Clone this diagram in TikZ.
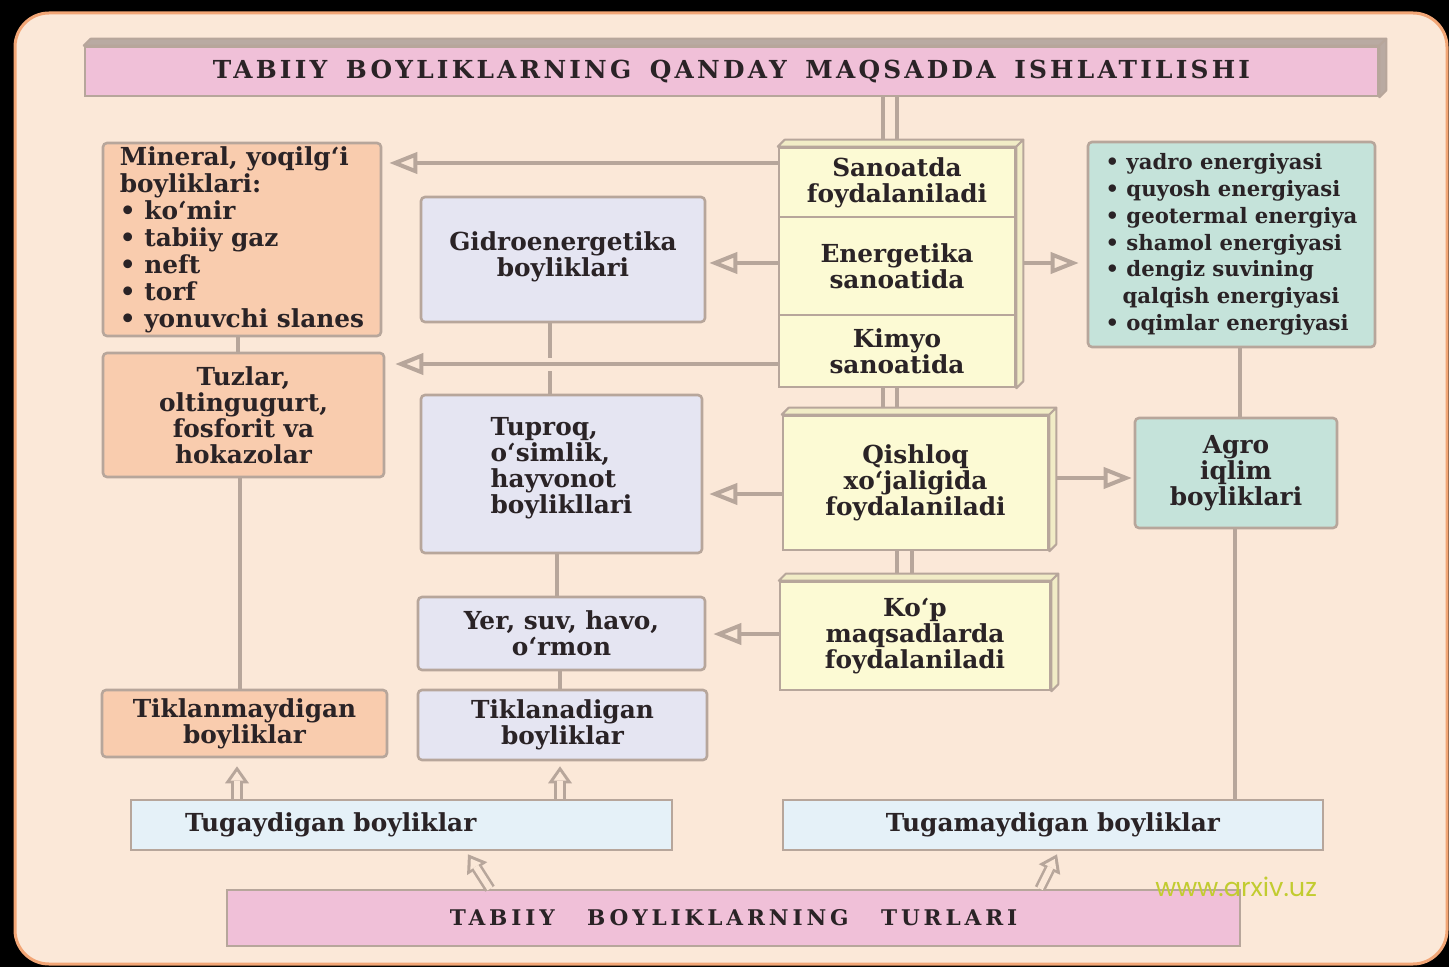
\documentclass[tikz,border=0pt]{standalone}
\usepackage{fontspec}
\setmainfont{DejaVu Serif}
\newfontfamily\titlefont[LetterSpace=13]{DejaVu Serif}
\newfontfamily\titlefontB[LetterSpace=18]{DejaVu Serif}
\newfontfamily\wmfont{Poppins}
\usetikzlibrary{arrows.meta,calc}
\pgfdeclarelayer{back}
\pgfdeclarelayer{bg}
\pgfsetlayers{back,bg,main}
\definecolor{bgpanel}{HTML}{FBE8D8}
\definecolor{panelborder}{HTML}{F2A676}
\definecolor{linegray}{HTML}{B7A69B}
\definecolor{titlepink}{HTML}{F0C0D8}
\definecolor{depthgray}{HTML}{B9AAA2}
\definecolor{salmon}{HTML}{F9CCAE}
\definecolor{lavender}{HTML}{E5E5F2}
\definecolor{lyellow}{HTML}{FCFAD4}
\definecolor{lyellowdepth}{HTML}{F1ECC6}
\definecolor{tealbox}{HTML}{C5E3DA}
\definecolor{lblue}{HTML}{E5F1F8}
\definecolor{wmgreen}{HTML}{C2CC30}
\definecolor{textdark}{HTML}{2A2326}
\tikzset{
  box/.style={draw=linegray, line width=1.3pt, rounded corners=2pt, inner sep=0pt,
    align=center, text=textdark, font=\bfseries\fontsize{12.4}{13}\selectfont},
  sq/.style={box, rounded corners=0pt},
  heading/.style={box, rounded corners=0pt},
  conn/.style={draw=linegray, line width=1.6pt},
  harrow/.style={draw=linegray, line width=2pt, -{Triangle[open,length=14pt,width=10.5pt]}},
  hollowout/.style={draw=linegray, line width=5.6pt, -{Triangle[length=8.5pt,width=12pt,line width=0pt]}},
  hollowin/.style={draw=bgpanel, line width=3pt, shorten >=2.6pt, -{Triangle[length=4.6pt,width=6.4pt,line width=0pt]}},
  face/.style={draw=linegray, line width=1pt, line join=round},
}
\begin{document}
\begin{tikzpicture}[x=0.5pt,y=-0.5pt]
\useasboundingbox (0,0) rectangle (1449,967);
\begin{pgfonlayer}{back}
\fill[black] (0,0) rectangle (1449,967);
\draw[panelborder, line width=1.5pt, fill=bgpanel, rounded corners=17pt] (15,13) rectangle (1447,964);
\end{pgfonlayer}

% heading
\node[heading, fill=titlepink, minimum width=646.5pt, minimum height=24.5pt,
      font=\titlefont\bfseries\fontsize{12.4}{13}\selectfont] (title) at (731.5,71.5)
  {TABIIY\hspace{0.75em}BOYLIKLARNING\hspace{0.75em}QANDAY\hspace{0.75em}MAQSADDA\hspace{0.75em}ISHLATILISHI};
\draw[face, fill=depthgray] (title.north west) -- ++(3.5pt,3.5pt) -- ([shift={(3.5pt,3.5pt)}]title.north east) -- (title.north east) -- cycle;
\draw[face, fill=depthgray] (title.north east) -- ++(3.5pt,3.5pt) -- ([shift={(3.5pt,3.5pt)}]title.south east) -- (title.south east) -- cycle;

% left column
\node[box, fill=salmon, minimum width=139pt, minimum height=96.5pt, align=left,
      font=\bfseries\fontsize{12.4}{13.5}\selectfont] (mineral) at (242,239.5)
  {Mineral, yoqilg‘i\\boyliklari:\\• ko‘mir\\• tabiiy gaz\\• neft\\• torf\\• yonuvchi slanes};
\node[box, fill=salmon, minimum width=140.5pt, minimum height=62pt] (tuzlar) at (243.5,415)
  {Tuzlar,\\oltingugurt,\\fosforit va\\hokazolar};
\node[box, fill=salmon, minimum width=142.5pt, minimum height=33.5pt] (tiklanmay) at (244.5,723.5)
  {Tiklanmaydigan\\boyliklar};

% second column
\node[box, fill=lavender, minimum width=142pt, minimum height=62.5pt] (gidro) at (563,259.5)
  {Gidroenergetika\\boyliklari\vphantom{y}\\[-8pt]};
\node[box, fill=lavender, minimum width=140.5pt, minimum height=79pt, align=left] (tuproq) at (561.5,474)
  {Tuproq,\\o‘simlik,\\hayvonot\\boylikllari\\[-4pt]};
\node[box, fill=lavender, minimum width=143.5pt, minimum height=36.5pt] (yer) at (561.5,633.5)
  {Yer, suv, havo,\\o‘rmon};
\node[box, fill=lavender, minimum width=144.5pt, minimum height=35pt] (tiklan) at (562.5,725)
  {Tiklanadigan\\boyliklar};

% middle column (3D boxes)
\node[sq, fill=lyellow, minimum width=118pt, minimum height=34.5pt] (sanoat) at (897,182.5)
  {Sanoatda\\foydalaniladi};
\node[sq, fill=lyellow, minimum width=118pt, minimum height=49pt] (energ) at (897,266)
  {Energetika\\sanoatida};
\node[sq, fill=lyellow, minimum width=118pt, minimum height=36pt] (kimyo) at (897,351)
  {Kimyo\\sanoatida};
\draw[face, fill=lyellowdepth] (sanoat.north west) -- ++(3.5pt,3.5pt) -- ([shift={(3.5pt,3.5pt)}]sanoat.north east) -- (sanoat.north east) -- cycle;
\draw[face, fill=lyellowdepth] (sanoat.north east) -- ++(3.5pt,3.5pt) -- ([shift={(3.5pt,3.5pt)}]kimyo.south east) -- (kimyo.south east) -- cycle;

\node[sq, fill=lyellow, minimum width=132.5pt, minimum height=67pt] (qishloq) at (915.5,483)
  {Qishloq\\xo‘jaligida\\foydalaniladi};
\draw[face, fill=lyellowdepth] (qishloq.north west) -- ++(3.5pt,3.5pt) -- ([shift={(3.5pt,3.5pt)}]qishloq.north east) -- (qishloq.north east) -- cycle;
\draw[face, fill=lyellowdepth] (qishloq.north east) -- ++(3.5pt,3.5pt) -- ([shift={(3.5pt,3.5pt)}]qishloq.south east) -- (qishloq.south east) -- cycle;

\node[sq, fill=lyellow, minimum width=135pt, minimum height=54pt] (kop) at (915,636)
  {Ko‘p\\maqsadlarda\\foydalaniladi};
\draw[face, fill=lyellowdepth] (kop.north west) -- ++(3.5pt,3.5pt) -- ([shift={(3.5pt,3.5pt)}]kop.north east) -- (kop.north east) -- cycle;
\draw[face, fill=lyellowdepth] (kop.north east) -- ++(3.5pt,3.5pt) -- ([shift={(3.5pt,3.5pt)}]kop.south east) -- (kop.south east) -- cycle;

% right column
\node[box, fill=tealbox, minimum width=143.5pt, minimum height=102.5pt, align=left,
      font=\bfseries\fontsize{10.6}{13.4}\selectfont] (energy) at (1231.5,244.5)
  {• yadro energiyasi\\• quyosh energiyasi\\• geotermal energiya\\• shamol energiyasi\\• dengiz suvining\\\hphantom{•\,}qalqish energiyasi\\• oqimlar energiyasi};
\node[box, fill=tealbox, minimum width=101pt, minimum height=55pt] (agro) at (1236,473)
  {Agro\\iqlim\\boyliklari};

% bottom
\node[box, fill=lblue, rounded corners=0pt, minimum height=25pt, text width=216.5pt, inner xsep=27pt, align=left] (tugay) at (401.5,825)
  {Tugaydigan boyliklar};
\node[box, fill=lblue, rounded corners=0pt, minimum width=270pt, minimum height=25pt] (tugamay) at (1053,825)
  {Tugamaydigan boyliklar};
\node[heading, fill=titlepink, minimum width=506.5pt, minimum height=28pt,
      font=\titlefontB\bfseries\fontsize{10.8}{12}\selectfont] (turlari) at (733.5,918)
  {TABIIY\hspace{1.5em}BOYLIKLARNING\hspace{1.5em}TURLARI};

\node[font=\wmfont\fontsize{12.8}{13}\selectfont, text=wmgreen, anchor=base west, inner sep=0pt] (wm) at (1155,896) {www.arxiv.uz};

% connectors (behind boxes)
\begin{pgfonlayer}{bg}
\draw[conn] ([xshift=-7pt]sanoat.north) -- ([xshift=-7pt]sanoat.north |- title.south);
\draw[conn] (sanoat.north) -- (sanoat.north |- title.south);
\draw[conn] ([xshift=-7pt]kimyo.south) -- ([xshift=-7pt]kimyo.south |- qishloq.north);
\draw[conn] (kimyo.south) -- (kimyo.south |- qishloq.north);
\draw[conn] ([xshift=-9.25pt]qishloq.south) -- ([xshift=-9.25pt]qishloq.south |- kop.north);
\draw[conn] ([xshift=-1.75pt]qishloq.south) -- ([xshift=-1.75pt]qishloq.south |- kop.north);

\draw[conn] ([xshift=-2pt]mineral.south) -- ([xshift=-2pt]mineral.south |- tuzlar.north);
\draw[conn] ([xshift=-1.75pt]tuzlar.south) -- ([xshift=-1.75pt]tuzlar.south |- tiklanmay.north);
\draw[conn] ([xshift=-6.5pt]gidro.south) -- ++(0,-17.5pt);
\draw[conn] ([xshift=-5.75pt]tuproq.north) -- ++(0,11.5pt);
\draw[conn] ([xshift=-2.25pt]tuproq.south) -- ([xshift=-2.25pt]tuproq.south |- yer.north);
\draw[conn] ([xshift=-0.75pt]yer.south) -- ([xshift=-0.75pt]yer.south |- tiklan.north);
\draw[conn] ([xshift=4.25pt]energy.south) -- ([xshift=4.25pt]energy.south |- agro.north);
\draw[conn] ([xshift=-0.5pt]agro.south) -- ([xshift=-0.5pt]agro.south |- tugamay.north);

\draw[harrow, shorten >=3.5pt] ([yshift=9.75pt]sanoat.west) coordinate (s1) -- (s1 -| mineral.east);
\draw[harrow, shorten >=1.5pt] ([yshift=1.5pt]energ.west) coordinate (s2) -- (s2 -| gidro.east);
\draw[harrow, shorten >=5pt] ([yshift=-6.5pt]kimyo.west) coordinate (s3) -- (s3 -| tuzlar.east);
\draw[harrow, shorten >=4pt] ([xshift=3.5pt,yshift=1.5pt]energ.east) coordinate (s4) -- (s4 -| energy.west);
\draw[harrow, shorten >=3pt] ([yshift=-5.5pt]qishloq.west) coordinate (s5) -- (s5 -| tuproq.east);
\draw[harrow, shorten >=1pt] ([xshift=3.5pt,yshift=2.5pt]qishloq.east) coordinate (s6) -- (s6 -| agro.west);
\draw[harrow, shorten >=3.5pt] ([yshift=1pt]kop.west) coordinate (s7) -- (s7 -| yer.east);
\end{pgfonlayer}

% hollow arrows
\coordinate (u1a) at ([xshift=-3.75pt]tiklanmay.south |- tugay.north);
\coordinate (u1b) at ([xshift=-3.75pt,yshift=-4pt]tiklanmay.south);
\coordinate (u2a) at ([xshift=-1.25pt]tiklan.south |- tugay.north);
\coordinate (u2b) at ([xshift=-1.25pt,yshift=-2.5pt]tiklan.south);
\coordinate (u3a) at ([xshift=-121.75pt]turlari.north);
\coordinate (u3b) at ([xshift=33.25pt,yshift=-1.5pt]tugay.south);
\coordinate (u4a) at ([xshift=153.25pt]turlari.north);
\coordinate (u4b) at ([xshift=2pt,yshift=-1.5pt]tugamay.south);
\foreach \a/\b in {u1a/u1b,u2a/u2b,u3a/u3b,u4a/u4b}{
  \draw[hollowout] (\a) -- (\b);
  \draw[hollowin] (\a) -- (\b);
}
\end{tikzpicture}
\end{document}
